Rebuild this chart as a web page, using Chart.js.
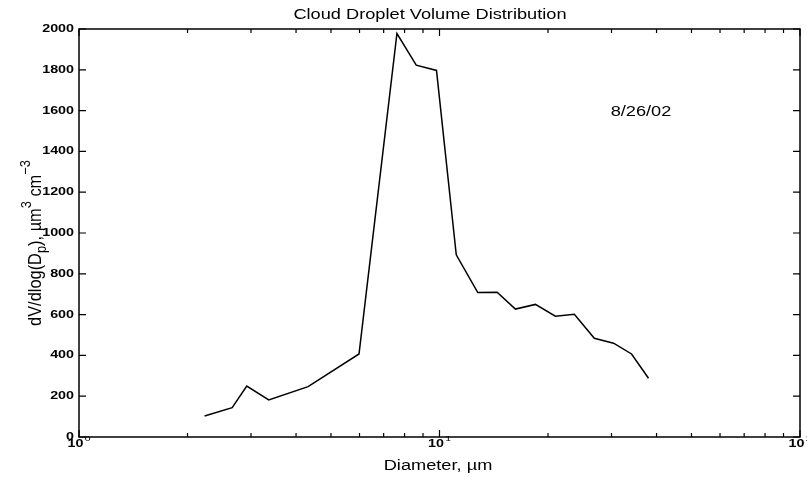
<!DOCTYPE html>
<html>
<head>
<meta charset="utf-8">
<title>Cloud Droplet Volume Distribution</title>
<script src="https://cdn.jsdelivr.net/npm/chart.js@4.4.0/dist/chart.umd.min.js"></script>
<style>
  html, body { margin: 0; padding: 0; background: #fff; }
</style>
</head>
<body>
<canvas id="dropletChart" width="807" height="477"></canvas>
<script>
// ---- data ----
const diameters  = [2.23, 2.66, 2.92, 3.36, 4.32, 5.98, 7.62, 8.62, 9.81, 11.13,
                    12.77, 14.45, 16.24, 18.45, 20.96, 23.66, 26.88, 30.4, 34.1, 38.0];
const volumeDist = [103, 144, 250, 182, 247, 407, 1978, 1823, 1797, 893,
                    708, 710, 627, 650, 592, 602, 484, 460, 407, 288];

const yTickValues = [0, 200, 400, 600, 800, 1000, 1200, 1400, 1600, 1800, 2000];
const xDecades    = [1, 10, 100];
const xDecadeExp  = ['0', '1', '2'];
const xMinorTicks = [2, 3, 4, 5, 6, 7, 8, 9, 20, 30, 40, 50, 60, 70, 80, 90];

const chartTitle = 'Cloud Droplet Volume Distribution';
const xTitle     = 'Diameter, \u00b5m';
const dateNote   = '8/26/02';

const FONT = '"Liberation Sans", Arial, Helvetica, sans-serif';
const STRETCH = 1.3; // the original's lettering is wide

// text drawn with horizontal stretch
function wideText(ctx, text, x, y, size, align, weight) {
  ctx.save();
  ctx.font = (weight || 'normal') + ' ' + size + 'px ' + FONT;
  ctx.translate(x, y);
  ctx.scale(STRETCH, 1);
  ctx.textAlign = align;
  ctx.textBaseline = 'middle';
  ctx.fillStyle = '#000';
  ctx.fillText(text, 0, 0);
  ctx.restore();
}

// runs of text with sub/superscripts, centered on 0 in the current frame
function drawRuns(ctx, runs, size) {
  let total = 0;
  runs.forEach(r => {
    ctx.font = Math.round(size * r.s) + 'px ' + FONT;
    r.w = ctx.measureText(r.t).width;
    total += r.w;
  });
  let x = -total / 2;
  ctx.textAlign = 'left';
  ctx.textBaseline = 'middle';
  runs.forEach(r => {
    ctx.font = Math.round(size * r.s) + 'px ' + FONT;
    ctx.fillText(r.t, x, r.dy);
    x += r.w;
  });
}

// axes box, inward ticks and all the lettering
const framePlugin = {
  id: 'frame',
  afterDraw(chart) {
    const { ctx, chartArea: a, scales } = chart;
    const xs = scales.x, ys = scales.y;
    ctx.save();
    ctx.strokeStyle = '#000';
    ctx.fillStyle = '#000';
    ctx.lineWidth = 1.5;
    ctx.strokeRect(a.left, a.top, a.right - a.left, a.bottom - a.top);

    // y ticks + labels
    ctx.lineWidth = 1.2;
    yTickValues.forEach(v => {
      const y = ys.getPixelForValue(v);
      ctx.beginPath();
      ctx.moveTo(a.left, y);  ctx.lineTo(a.left + 7, y);
      ctx.moveTo(a.right, y); ctx.lineTo(a.right - 7, y);
      ctx.stroke();
      wideText(ctx, String(v), a.left - 5, y, 11, 'right', 'bold');
    });

    // x ticks
    const xTick = (v, len) => {
      const x = xs.getPixelForValue(v);
      ctx.beginPath();
      ctx.moveTo(x, a.bottom); ctx.lineTo(x, a.bottom - len);
      ctx.moveTo(x, a.top);    ctx.lineTo(x, a.top + len);
      ctx.stroke();
      return x;
    };
    xMinorTicks.forEach(v => xTick(v, 4));
    xDecades.forEach((v, i) => {
      const x = xTick(v, 7);
      ctx.save();
      ctx.translate(x, a.bottom + 7);
      ctx.scale(STRETCH, 1);
      ctx.font = 'bold 11px ' + FONT;
      const wBase = ctx.measureText('10').width;
      ctx.font = '8px ' + FONT;
      const wExp = ctx.measureText(xDecadeExp[i]).width;
      const start = -(wBase + wExp + 1) / 2;
      ctx.textAlign = 'left';
      ctx.textBaseline = 'middle';
      ctx.font = 'bold 11px ' + FONT;
      ctx.fillText('10', start, 0);
      ctx.font = '8px ' + FONT;
      ctx.fillText(xDecadeExp[i], start + wBase + 1, -5);
      ctx.restore();
    });

    // titles and note
    wideText(ctx, chartTitle, 430, 15, 14, 'center');
    wideText(ctx, xTitle, 438, 466, 14, 'center');
    wideText(ctx, dateNote, 641, 112, 14, 'center');

    // rotated y title: dV/dlog(Dp), µm^3 cm^-3
    ctx.save();
    ctx.translate(36, 243);
    ctx.rotate(-Math.PI / 2);
    ctx.scale(1.17, STRETCH);
    drawRuns(ctx, [
      { t: 'dV/dlog(D', s: 1,    dy: 0 },
      { t: 'p',         s: 0.75, dy: 5 },
      { t: '), \u00b5m', s: 1,   dy: 0 },
      { t: '3',         s: 0.8,  dy: -7 },
      { t: ' cm',       s: 1,    dy: 0 },
      { t: '\u22123',   s: 0.8,  dy: -8 }
    ], 14);
    ctx.restore();

    ctx.restore();
  }
};

const points = diameters.map((d, i) => ({ x: d, y: volumeDist[i] }));

new Chart(document.getElementById('dropletChart'), {
  type: 'line',
  data: {
    datasets: [{
      data: points,
      borderColor: '#000',
      borderWidth: 1.5,
      pointRadius: 0,
      tension: 0,
      fill: false
    }]
  },
  options: {
    responsive: false,
    animation: false,
    devicePixelRatio: 1,
    layout: { padding: { left: 79, right: 7, top: 29, bottom: 40 } },
    plugins: {
      legend: { display: false },
      title: { display: false },
      tooltip: { enabled: false }
    },
    scales: {
      x: { type: 'logarithmic', min: 1, max: 100, display: false },
      y: { type: 'linear', min: 0, max: 2000, display: false }
    }
  },
  plugins: [framePlugin]
});
</script>
</body>
</html>
